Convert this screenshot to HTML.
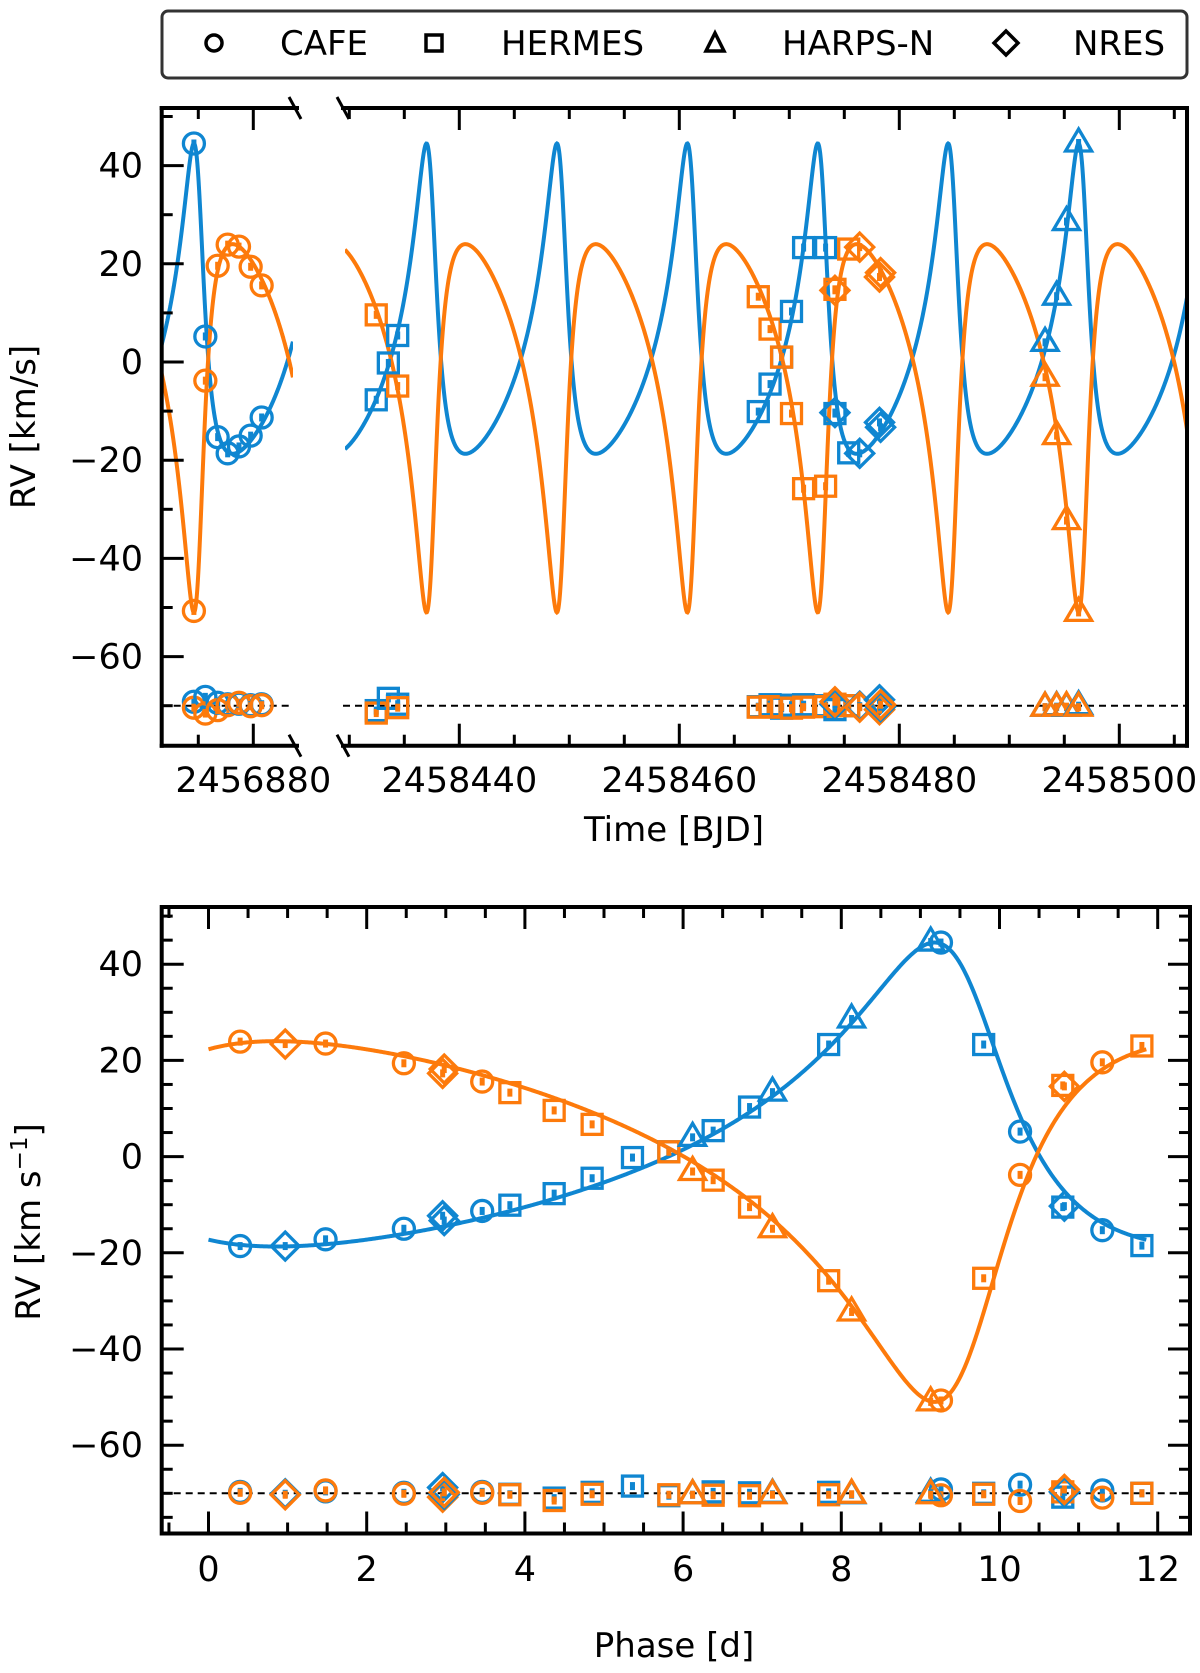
<!DOCTYPE html>
<html><head><meta charset="utf-8"><style>
html,body{margin:0;padding:0;background:#fff;}
svg{display:block;font-family:"DejaVu Sans","Liberation Sans",sans-serif;}
</style></head><body>
<svg id="fig" width="1200" height="1673" viewBox="0 0 1200 1673" xmlns="http://www.w3.org/2000/svg">
<g>
<rect x="162" y="11" width="1025" height="67" rx="6" fill="#fff" stroke="#333" stroke-width="3"/>
<circle cx="214" cy="43" r="8" fill="none" stroke="#000" stroke-width="3.5"/>
<text x="280" y="55" font-size="34">CAFE</text>
<rect x="426" y="35" width="16" height="16" fill="none" stroke="#000" stroke-width="3.5"/>
<text x="501" y="55" font-size="34">HERMES</text>
<polygon points="715,33 724,51 706,51" fill="none" stroke="#000" stroke-width="3.5"/>
<text x="782" y="55" font-size="34">HARPS-N</text>
<polygon points="1006,31 1018,43 1006,55 994,43" fill="none" stroke="#000" stroke-width="3.5"/>
<text x="1073" y="55" font-size="34">NRES</text>
</g>
<defs>
<clipPath id="clipL"><rect x="161.7" y="108" width="131.3" height="637.7"/></clipPath>
<clipPath id="clipR"><rect x="345" y="108" width="842" height="637.7"/></clipPath>
</defs>
<g id="topPanel"></g>
<g id="botPanel"></g>
<text x="0" y="0" font-size="34" text-anchor="middle" transform="translate(35,427) rotate(-90)">RV [km/s]</text>
<text x="674" y="841" font-size="34" text-anchor="middle">Time [BJD]</text>
<text x="0" y="0" font-size="34" text-anchor="middle" transform="translate(40,1222) rotate(-90)">RV [km s<tspan baseline-shift="super" font-size="23">−1</tspan>]</text>
<text x="674" y="1657" font-size="34" text-anchor="middle">Phase [d]</text>
</svg>
<script>
const PERIOD = 11.856, ECC = 0.485, OMEGA_DEG = 38, K1 = 31.6, K2 = 37.5, GAMMA = 0.83;
const PEAK_LEFT = 2456874.6, PEAK_RIGHT = 2458496.3, PEAK_PHASE = 9.18;
const RES_OFFSET = -70;
const cafeTime = [2456874.6, 2456875.64, 2456876.76, 2456877.67, 2456878.70, 2456879.76, 2456880.76];
const cafePhase = [9.26, 10.26, 11.30, 0.40, 1.48, 2.47, 3.46];
const cafeRv1 = [44.5, 5.2, -15.3, -18.6, -17.2, -15.0, -11.3];
const cafeRv2 = [-50.7, -3.8, 19.6, 23.9, 23.5, 19.4, 15.6];
const cafeRes1 = [0.8, 1.8, 0.6, 0.3, 0.4, 0.1, 0.3];
const cafeRes2 = [-0.4, -1.6, -0.9, 0.1, 0.6, -0.1, 0.1];
const hermesTime = [2458432.45, 2458433.55, 2458434.4, 2458467.18, 2458468.25, 2458469.3, 2458470.2, 2458471.3, 2458473.3, 2458474.15, 2458475.4];
const hermesPhase = [4.37, 5.36, 6.38, 3.81, 4.85, 5.82, 6.84, 7.84, 9.80, 10.80, 11.80];
const hermesRv1 = [-7.7, -0.2, 5.4, -10.1, -4.5, 1.0, 10.3, 23.3, 23.3, -10.5, -18.5];
const hermesRv2 = [9.6, null, -4.9, 13.3, 6.7, 1.0, -10.5, -25.8, -25.3, 14.8, 23.0];
const hermesRes1 = [-1.0, 1.5, 0.3, -0.2, 0.2, -0.5, 0.1, 0.2, 0.0, -0.8, 0.0];
const hermesRes2 = [-1.5, null, -0.4, -0.3, -0.2, -0.3, -0.5, -0.3, -0.2, 0.3, 0.0];
const harpsTime = [2458493.25, 2458494.3, 2458495.2, 2458496.3];
const harpsPhase = [6.12, 7.13, 8.13, 9.13];
const harpsRv1 = [4.0, 13.4, 28.6, 44.6];
const harpsRv2 = [-3.1, -15.0, -32.3, -51.0];
const harpsRes1 = [-0.3, -0.2, -0.3, 0.0];
const harpsRes2 = [-0.3, -0.3, -0.2, -0.3];
const nresTime = [2458474.15, 2458476.4, 2458478.2, 2458478.3];
const nresPhase = [10.82, 0.97, 2.96, 2.98];
const nresRv1 = [-10.3, -18.6, -12.3, -13.3];
const nresRv2 = [14.6, 23.4, 17.3, 18.2];
const nresRes1 = [0.3, -0.1, 1.2, -0.2];
const nresRes2 = [0.8, -0.3, -0.8, 0.2];
const topYTicks = [-60, -40, -20, 0, 20, 40];
const topXTicksRight = [2458440, 2458460, 2458480, 2458500];
const topXTicksLeft = [2456880];
const botXTicks = [0, 2, 4, 6, 8, 10, 12];
const botYTicks = [-60, -40, -20, 0, 20, 40];

const NS = 'http://www.w3.org/2000/svg';
const BLUE = '#0f86d1', ORANGE = '#fd7a0b';
function mk(parent, tag, attrs) {
  const el = document.createElementNS(NS, tag);
  for (const k in attrs) el.setAttribute(k, attrs[k]);
  parent.appendChild(el);
  return el;
}
const xL = t => 253.3 + (t - 2456880) * 11;
const xR = t => 459.3 + (t - 2458440) * 11;
const yT = v => 362 - v * 4.91;
const xB = p => 208.5 + p * 79.1;
const yB = v => 1156.6 - v * 4.81;

const wRad = OMEGA_DEG * Math.PI / 180;
function meanFromNu(nu) {
  const E = 2 * Math.atan(Math.sqrt((1 - ECC) / (1 + ECC)) * Math.tan(nu / 2));
  return E - ECC * Math.sin(E);
}
const M_PEAK = meanFromNu(-wRad);
function vel(dt, comp) {
  const M = M_PEAK + 2 * Math.PI * dt / PERIOD;
  let E = M;
  for (let i = 0; i < 30; i++) E = E - (E - ECC * Math.sin(E) - M) / (1 - ECC * Math.cos(E));
  const nu = 2 * Math.atan2(Math.sqrt(1 + ECC) * Math.sin(E / 2), Math.sqrt(1 - ECC) * Math.cos(E / 2));
  const f = Math.cos(nu + wRad) + ECC * Math.cos(wRad);
  return comp === 1 ? GAMMA + K1 * f : GAMMA - K2 * f;
}

function marker(g, shape, x, y, color, name) {
  let el;
  const sw = 3.3;
  if (shape === 'circle') el = mk(g, 'circle', {cx: x, cy: y, r: 10.5, fill: 'none', stroke: color, 'stroke-width': sw});
  else if (shape === 'square') el = mk(g, 'rect', {x: x - 10, y: y - 10, width: 20, height: 20, fill: 'none', stroke: color, 'stroke-width': sw});
  else if (shape === 'triangle') el = mk(g, 'polygon', {points: `${x},${y - 14} ${x + 13},${y + 8} ${x - 13},${y + 8}`, fill: 'none', stroke: color, 'stroke-width': sw});
  else el = mk(g, 'polygon', {points: `${x},${y - 14} ${x + 14},${y} ${x},${y + 14} ${x - 14},${y}`, fill: 'none', stroke: color, 'stroke-width': sw});
  
  
  const eb = mk(g, 'rect', {x: x - 2.5, y: y - 4, width: 5, height: 8, fill: color});
  
  
}
function ticksY(g, x, vals, yf, len, dir) {
  vals.forEach(v => {
    const t = mk(g, 'line', {x1: x, x2: x + dir * len, y1: yf(v), y2: yf(v), stroke: '#000', 'stroke-width': 3});
    
    
  });
}
function ticksX(g, y, vals, xf, len, dir) {
  vals.forEach(v => {
    const t = mk(g, 'line', {x1: xf(v), x2: xf(v), y1: y, y2: y + dir * len, stroke: '#000', 'stroke-width': 3});
    
    
  });
}
function range(a, b, s) { const r = []; for (let v = a; v <= b + 1e-9; v += s) r.push(+v.toFixed(4)); return r; }

const instruments = [
  {key: 'cafe', shape: 'circle', time: cafeTime, phase: cafePhase, rv1: cafeRv1, rv2: cafeRv2, res1: cafeRes1, res2: cafeRes2},
  {key: 'hermes', shape: 'square', time: hermesTime, phase: hermesPhase, rv1: hermesRv1, rv2: hermesRv2, res1: hermesRes1, res2: hermesRes2},
  {key: 'harps-n', shape: 'triangle', time: harpsTime, phase: harpsPhase, rv1: harpsRv1, rv2: harpsRv2, res1: harpsRes1, res2: harpsRes2},
  {key: 'nres', shape: 'diamond', time: nresTime, phase: nresPhase, rv1: nresRv1, rv2: nresRv2, res1: nresRes1, res2: nresRes2}
];

// ================= TOP PANEL =================
const topG = document.getElementById('topPanel');
const TT = 108, TB = 745.7, LL = 161.7, LR = 293, RL = 345, RR = 1187;
const d1 = mk(topG, 'line', {x1: LL, x2: LR, y1: yT(RES_OFFSET), y2: yT(RES_OFFSET), stroke: '#000', 'stroke-width': 2, 'stroke-dasharray': '7,5'});


const d2 = mk(topG, 'line', {x1: RL - 2, x2: RR, y1: yT(RES_OFFSET), y2: yT(RES_OFFSET), stroke: '#000', 'stroke-width': 2, 'stroke-dasharray': '7,5'});


function curvePath(t0, t1, xf, peak, comp) {
  let s = '';
  const n = 1600;
  for (let i = 0; i <= n; i++) {
    const t = t0 + (t1 - t0) * i / n;
    s += (i ? 'L' : 'M') + xf(t).toFixed(2) + ',' + yT(vel(t - peak, comp)).toFixed(2);
  }
  return s;
}
[[1, BLUE], [2, ORANGE]].forEach(([c, col]) => {
  const pl = mk(topG, 'path', {d: curvePath(2456871.5, 2456883.6, xL, PEAK_LEFT, c), fill: 'none', stroke: col, 'stroke-width': 4, 'clip-path': 'url(#clipL)'});
  
  
  const pr = mk(topG, 'path', {d: curvePath(2458429.6, 2458506.5, xR, PEAK_RIGHT, c), fill: 'none', stroke: col, 'stroke-width': 4, 'clip-path': 'url(#clipR)'});
  
  
});
instruments.forEach(ins => {
  ins.time.forEach((t, i) => {
    const xf = t < 2457500 ? xL : xR;
    const x = xf(t);
    marker(topG, ins.shape, x, yT(RES_OFFSET + ins.res1[i]), BLUE, ins.key + '-primary-residual');
    if (ins.res2[i] !== null) marker(topG, ins.shape, x, yT(RES_OFFSET + ins.res2[i]), ORANGE, ins.key + '-secondary-residual');
    marker(topG, ins.shape, x, yT(ins.rv1[i]), BLUE, ins.key + '-primary-rv');
    if (ins.rv2[i] !== null) marker(topG, ins.shape, x, yT(ins.rv2[i]), ORANGE, ins.key + '-secondary-rv');
  });
});
[['top-left-spine-left', LL, TT, LL, TB], ['top-spine-top-left', LL, TT, LR + 4, TT], ['top-spine-bottom-left', LL, TB, LR + 4, TB],
 ['top-spine-top-right', RL - 2, TT, RR, TT], ['top-spine-bottom-right', RL - 2, TB, RR, TB], ['top-spine-right', RR, TT, RR, TB]].forEach(s => {
  const l = mk(topG, 'line', {x1: s[1], y1: s[2], x2: s[3], y2: s[4], stroke: '#000', 'stroke-width': 4, 'stroke-linecap': 'square'});
  
  
});
[[LR + 2, TT], [RL - 2, TT], [LR + 2, TB], [RL - 2, TB]].forEach(p => {
  const b = mk(topG, 'line', {x1: p[0] - 6, y1: p[1] - 11, x2: p[0] + 6, y2: p[1] + 11, stroke: '#000', 'stroke-width': 3});
  
  
});
ticksY(topG, LL, topYTicks, yT, 22, 1);
ticksY(topG, LL, range(-70, 50, 10).filter(v => v % 20 !== 0), yT, 11, 1);
ticksX(topG, TB, topXTicksLeft, xL, 22, -1); ticksX(topG, TT, topXTicksLeft, xL, 22, 1);
ticksX(topG, TB, [2456875], xL, 11, -1); ticksX(topG, TT, [2456875], xL, 11, 1);
ticksX(topG, TB, topXTicksRight, xR, 22, -1); ticksX(topG, TT, topXTicksRight, xR, 22, 1);
const minR = range(2458430, 2458505, 5).filter(v => v % 20 !== 0);
ticksX(topG, TB, minR, xR, 11, -1); ticksX(topG, TT, minR, xR, 11, 1);
topYTicks.forEach(v => {
  const t = mk(topG, 'text', {x: 143, y: yT(v) + 12, 'font-size': 35, 'text-anchor': 'end'});
  t.textContent = v < 0 ? '\u2212' + Math.abs(v) : String(v);
  
  
});
topXTicksLeft.forEach(v => {
  const t = mk(topG, 'text', {x: xL(v), y: 792, 'font-size': 35, 'text-anchor': 'middle'});
  t.textContent = String(v);
  
  
});
topXTicksRight.forEach(v => {
  const t = mk(topG, 'text', {x: xR(v), y: 792, 'font-size': 35, 'text-anchor': 'middle'});
  t.textContent = String(v);
  
  
});

// ================= BOTTOM PANEL =================
const botG = document.getElementById('botPanel');
const BT = 907, BBm = 1533.5, BL = 161.7, BR = 1190;
const d3 = mk(botG, 'line', {x1: BL, x2: BR, y1: yB(RES_OFFSET), y2: yB(RES_OFFSET), stroke: '#000', 'stroke-width': 2, 'stroke-dasharray': '7,5'});


[[1, BLUE], [2, ORANGE]].forEach(([c, col]) => {
  let s = '';
  const n = 800;
  for (let i = 0; i <= n; i++) {
    const p = PERIOD * i / n;
    s += (i ? 'L' : 'M') + xB(p).toFixed(2) + ',' + yB(vel(p - PEAK_PHASE, c)).toFixed(2);
  }
  const pth = mk(botG, 'path', {d: s, fill: 'none', stroke: col, 'stroke-width': 4});
  
  
});
instruments.forEach(ins => {
  ins.phase.forEach((p, i) => {
    const x = xB(p);
    marker(botG, ins.shape, x, yB(RES_OFFSET + ins.res1[i]), BLUE, ins.key + '-phase-primary-residual');
    if (ins.res2[i] !== null) marker(botG, ins.shape, x, yB(RES_OFFSET + ins.res2[i]), ORANGE, ins.key + '-phase-secondary-residual');
    marker(botG, ins.shape, x, yB(ins.rv1[i]), BLUE, ins.key + '-phase-primary-rv');
    if (ins.rv2[i] !== null) marker(botG, ins.shape, x, yB(ins.rv2[i]), ORANGE, ins.key + '-phase-secondary-rv');
  });
});
const frame = mk(botG, 'rect', {x: BL, y: BT, width: BR - BL, height: BBm - BT, fill: 'none', stroke: '#000', 'stroke-width': 4});


ticksY(botG, BL, botYTicks, yB, 22, 1); ticksY(botG, BR, botYTicks, yB, 22, -1);
const minYB = range(-75, 50, 5).filter(v => v % 20 !== 0);
ticksY(botG, BL, minYB, yB, 11, 1); ticksY(botG, BR, minYB, yB, 11, -1);
ticksX(botG, BBm, botXTicks, xB, 22, -1); ticksX(botG, BT, botXTicks, xB, 22, 1);
const minXB = range(-0.5, 12, 0.5).filter(v => v % 2 !== 0);
ticksX(botG, BBm, minXB, xB, 11, -1); ticksX(botG, BT, minXB, xB, 11, 1);
botYTicks.forEach(v => {
  const t = mk(botG, 'text', {x: 143, y: yB(v) + 12, 'font-size': 35, 'text-anchor': 'end'});
  t.textContent = v < 0 ? '\u2212' + Math.abs(v) : String(v);
  
  
});
botXTicks.forEach(v => {
  const t = mk(botG, 'text', {x: xB(v), y: 1581, 'font-size': 35, 'text-anchor': 'middle'});
  t.textContent = String(v);
  
  
});
</script>
</body></html>
